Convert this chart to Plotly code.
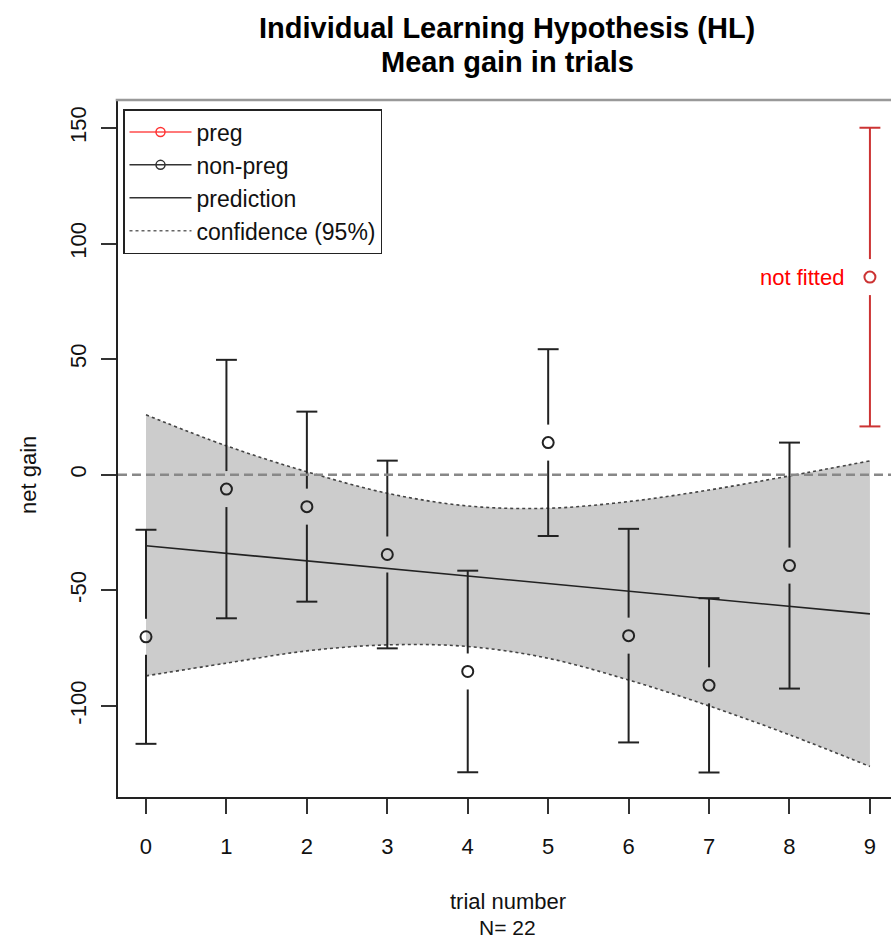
import plotly.graph_objects as go

# ---- data -------------------------------------------------------------
trials = [0, 1, 2, 3, 4, 5, 6, 7, 8]
nonpreg_mean = [-70.1, -6.2, -13.8, -34.5, -85.1, 13.9, -69.6, -91.1, -39.3]
nonpreg_ci = [46.3, 55.9, 41.1, 40.6, 43.6, 40.4, 46.2, 37.7, 53.2]

preg_trial = [9]
preg_mean = [85.5]
preg_ci = [64.6]

fit_x = [0, 1, 2, 3, 4, 5, 6, 7, 8, 9]
fit_pred = [-30.7, -34.0, -37.3, -40.5, -43.8, -47.1, -50.4, -53.7, -57.0, -60.2]
fit_upper = [25.9, 12.5, 1.3, -8.0, -13.5, -14.5, -11.6, -6.6, -0.5, 6.0]
fit_lower = [-87.0, -81.5, -76.2, -73.6, -74.3, -79.4, -88.8, -100.0, -112.5, -126.2]

y_ticks = [-100, -50, 0, 50, 100, 150]
x_ticks = [0, 1, 2, 3, 4, 5, 6, 7, 8, 9]

# ---- geometry / style -------------------------------------------------
W, H = 891, 939
M_L, M_R, M_T, M_B = 118, 0, 100, 142
X_RANGE = [-0.348, 9.262]
Y_RANGE = [-139.4, 162.1]
FONT = "Liberation Sans, Arial, sans-serif"

plot_w = W - M_L - M_R
plot_h = H - M_T - M_B
units_per_px = (Y_RANGE[1] - Y_RANGE[0]) / plot_h
GAP = 18 * units_per_px      # blank space left around each circle
CAP = 0.13                   # half-width of the error-bar caps


def px_x(px):
    return (px - M_L) / plot_w


def px_y(py):
    return (H - M_B - py) / plot_h


def bar_segments(xs, means, cis):
    """Whisker segments (with a gap around the point) and caps."""
    sx, sy, cx, cy = [], [], [], []
    for x, m, c in zip(xs, means, cis):
        if c > GAP:
            sx += [x, x, None, x, x, None]
            sy += [m + GAP, m + c, None, m - GAP, m - c, None]
        for end in (m + c, m - c):
            cx += [x - CAP, x + CAP, None]
            cy += [end, end, None]
    return sx, sy, cx, cy


fig = go.Figure()

# legend entries first, so they keep this order
fig.add_trace(go.Scatter(x=[None], y=[None], mode="lines+markers", name="preg",
                         line=dict(color="#ff4d4d", width=1.5),
                         marker=dict(symbol="circle-open", size=9,
                                     color="#ff3333", line=dict(width=1.5))))
fig.add_trace(go.Scatter(x=[None], y=[None], mode="lines+markers",
                         name="non-preg",
                         line=dict(color="#333333", width=1.5),
                         marker=dict(symbol="circle-open", size=9,
                                     color="#333333", line=dict(width=1.5))))
fig.add_trace(go.Scatter(x=[None], y=[None], mode="lines", name="prediction",
                         line=dict(color="#333333", width=1.5)))
fig.add_trace(go.Scatter(x=[None], y=[None], mode="lines",
                         name="confidence (95%)",
                         line=dict(color="#666666", width=1.5, dash="dot")))

# confidence band
fig.add_trace(go.Scatter(x=fit_x, y=fit_lower, mode="lines",
                         line=dict(width=0, shape="spline"),
                         showlegend=False, hoverinfo="skip"))
fig.add_trace(go.Scatter(x=fit_x, y=fit_upper, mode="lines", fill="tonexty",
                         fillcolor="#cccccc",
                         line=dict(width=0, shape="spline"),
                         showlegend=False, hoverinfo="skip"))
for band in (fit_upper, fit_lower):
    fig.add_trace(go.Scatter(x=fit_x, y=band, mode="lines",
                             line=dict(color="#444444", width=1.6,
                                       dash="dot", shape="spline"),
                             showlegend=False, hoverinfo="skip"))

# prediction line
fig.add_trace(go.Scatter(x=fit_x, y=fit_pred, mode="lines",
                         line=dict(color="#222222", width=1.6),
                         showlegend=False))

# non-preg error bars and means
sx, sy, cx, cy = bar_segments(trials, nonpreg_mean, nonpreg_ci)
fig.add_trace(go.Scatter(x=sx, y=sy, mode="lines",
                         line=dict(color="#222222", width=2),
                         showlegend=False, hoverinfo="skip"))
fig.add_trace(go.Scatter(x=cx, y=cy, mode="lines",
                         line=dict(color="#222222", width=2),
                         showlegend=False, hoverinfo="skip"))
fig.add_trace(go.Scatter(x=trials, y=nonpreg_mean, mode="markers",
                         marker=dict(symbol="circle-open", size=11,
                                     color="#222222", line=dict(width=2)),
                         showlegend=False))

# preg error bar and mean
sx, sy, cx, cy = bar_segments(preg_trial, preg_mean, preg_ci)
fig.add_trace(go.Scatter(x=sx, y=sy, mode="lines",
                         line=dict(color="#cc3333", width=2),
                         showlegend=False, hoverinfo="skip"))
fig.add_trace(go.Scatter(x=cx, y=cy, mode="lines",
                         line=dict(color="#cc3333", width=2),
                         showlegend=False, hoverinfo="skip"))
fig.add_trace(go.Scatter(x=preg_trial, y=preg_mean, mode="markers",
                         marker=dict(symbol="circle-open", size=11,
                                     color="#cc3333", line=dict(width=2)),
                         showlegend=False))

# zero reference line
fig.add_shape(type="line", xref="paper", x0=0, x1=1, yref="y", y0=0, y1=0,
              line=dict(color="#888888", width=2.5, dash="9px,5px"))
# top border of the plot box
fig.add_shape(type="line", xref="paper", x0=-0.003, x1=1, yref="paper",
              y0=1, y1=1, line=dict(color="#999999", width=2.5))

fig.add_annotation(x=preg_trial[0], y=preg_mean[0], xref="x", yref="y",
                   text="not fitted", showarrow=False, xanchor="right",
                   xshift=-24, font=dict(color="#ff0000", size=22,
                                         family=FONT))

# titles
fig.add_annotation(x=px_x(507), y=px_y(28), xref="paper", yref="paper",
                   text="<b>Individual Learning Hypothesis (HL)</b>",
                   showarrow=False, xanchor="center", yanchor="middle",
                   font=dict(size=29, color="#000000", family=FONT))
fig.add_annotation(x=px_x(507), y=px_y(62), xref="paper", yref="paper",
                   text="<b>Mean gain in trials</b>",
                   showarrow=False, xanchor="center", yanchor="middle",
                   font=dict(size=29, color="#000000", family=FONT))
fig.add_annotation(x=px_x(28), y=px_y(475), xref="paper", yref="paper",
                   text="net gain", showarrow=False, textangle=-90,
                   xanchor="center", yanchor="middle",
                   font=dict(size=22, color="#111111", family=FONT))
fig.add_annotation(x=px_x(508), y=px_y(901), xref="paper", yref="paper",
                   text="trial number", showarrow=False,
                   xanchor="center", yanchor="middle",
                   font=dict(size=22, color="#111111", family=FONT))
fig.add_annotation(x=px_x(508), y=px_y(927), xref="paper", yref="paper",
                   text="N= 22", showarrow=False,
                   xanchor="center", yanchor="middle",
                   font=dict(size=21, color="#111111", family=FONT))

fig.update_layout(
    width=W, height=H,
    margin=dict(l=M_L, r=M_R, t=M_T, b=M_B, pad=0),
    paper_bgcolor="white", plot_bgcolor="white",
    font=dict(family=FONT, size=22, color="#111111"),
    showlegend=True,
    legend=dict(x=px_x(123), y=px_y(109), xanchor="left", yanchor="top",
                traceorder="normal",
                bgcolor="white", bordercolor="#222222", borderwidth=1.5,
                font=dict(size=23, color="#111111", family=FONT),
                tracegroupgap=0, itemwidth=62,
                entrywidth=205, entrywidthmode="pixels"),
    xaxis=dict(range=X_RANGE, tickvals=x_ticks,
               ticktext=[str(v) for v in x_ticks],
               ticks="outside", ticklen=15, tickwidth=1.5, tickcolor="#333333",
               showline=True, linecolor="#222222", linewidth=2,
               showgrid=False, zeroline=False, ticklabelstandoff=14),
    yaxis=dict(range=Y_RANGE, tickvals=y_ticks,
               ticktext=[str(v) for v in y_ticks], tickangle=-90,
               ticks="outside", ticklen=15, tickwidth=1.5, tickcolor="#333333",
               showline=True, linecolor="#222222", linewidth=2,
               showgrid=False, zeroline=False, ticklabelstandoff=6),
)

fig.write_html("out.html")
